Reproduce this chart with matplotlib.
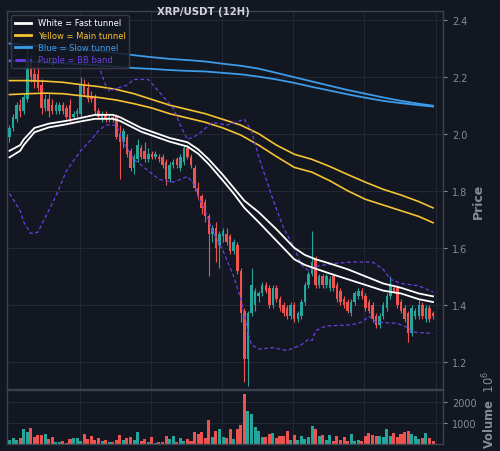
import numpy as np
import matplotlib
matplotlib.use('Agg')
import matplotlib.pyplot as plt
from matplotlib.lines import Line2D

# ---- 12H candles ----
opens = [1.99, 2.02, 2.05, 2.10, 2.08, 2.12, 2.25, 2.21, 2.21, 2.17,
         2.09, 2.12, 2.10, 2.08, 2.08, 2.10, 2.09, 2.10, 2.06, 2.07,
         2.07, 2.17, 2.16, 2.13, 2.13, 2.08, 2.05, 2.07, 2.05, 2.06,
         2.06, 2.00, 1.97, 1.99, 1.94, 1.88, 1.91, 1.95, 1.94, 1.91,
         1.93, 1.92, 1.92, 1.92, 1.90, 1.84, 1.89, 1.91, 1.88, 1.90,
         1.95, 1.92, 1.88, 1.81, 1.78, 1.76, 1.71, 1.65, 1.67, 1.61,
         1.64, 1.65, 1.64, 1.59, 1.61, 1.52, 1.38, 1.21, 1.37, 1.40,
         1.43, 1.44, 1.47, 1.46, 1.40, 1.46, 1.42, 1.40, 1.39, 1.36,
         1.40, 1.35, 1.36, 1.41, 1.47, 1.51, 1.56, 1.47, 1.50, 1.47,
         1.46, 1.50, 1.47, 1.45, 1.42, 1.41, 1.37, 1.41, 1.43, 1.45,
         1.43, 1.41, 1.40, 1.36, 1.33, 1.36, 1.39, 1.43, 1.46, 1.46,
         1.41, 1.39, 1.37, 1.30, 1.36, 1.36, 1.40, 1.35, 1.39, 1.37]
highs = [2.03, 2.07, 2.11, 2.12, 2.14, 2.31, 2.28, 2.24, 2.26, 2.19,
         2.14, 2.14, 2.12, 2.11, 2.11, 2.11, 2.10, 2.12, 2.08, 2.09,
         2.20, 2.19, 2.18, 2.15, 2.14, 2.09, 2.08, 2.08, 2.07, 2.07,
         2.07, 2.03, 2.02, 2.00, 1.95, 1.93, 1.98, 1.96, 1.97, 1.95,
         1.94, 1.94, 1.93, 1.93, 1.91, 1.90, 1.91, 1.92, 1.93, 1.96,
         1.96, 1.93, 1.89, 1.83, 1.79, 1.77, 1.72, 1.68, 1.69, 1.66,
         1.67, 1.67, 1.65, 1.63, 1.62, 1.53, 1.39, 1.38, 1.53, 1.46,
         1.45, 1.48, 1.48, 1.47, 1.47, 1.47, 1.43, 1.41, 1.40, 1.41,
         1.41, 1.38, 1.42, 1.48, 1.52, 1.66, 1.57, 1.51, 1.51, 1.51,
         1.50, 1.51, 1.48, 1.46, 1.43, 1.42, 1.42, 1.45, 1.46, 1.46,
         1.44, 1.42, 1.41, 1.37, 1.37, 1.41, 1.44, 1.50, 1.47, 1.47,
         1.42, 1.40, 1.38, 1.40, 1.39, 1.42, 1.41, 1.40, 1.40, 1.38]
lows = [1.97, 2.01, 2.04, 2.06, 2.07, 2.11, 2.18, 2.16, 2.15, 2.07,
        2.08, 2.06, 2.07, 2.07, 2.07, 2.07, 2.05, 2.04, 2.05, 2.06,
        2.06, 2.13, 2.11, 2.11, 2.07, 2.05, 2.04, 2.04, 2.04, 2.04,
        1.98, 1.84, 1.95, 1.92, 1.87, 1.86, 1.90, 1.91, 1.90, 1.90,
        1.91, 1.91, 1.90, 1.88, 1.82, 1.83, 1.88, 1.88, 1.87, 1.89,
        1.91, 1.88, 1.80, 1.77, 1.72, 1.69, 1.50, 1.62, 1.55, 1.53,
        1.62, 1.61, 1.58, 1.58, 1.51, 1.34, 1.13, 1.115, 1.36, 1.38,
        1.41, 1.43, 1.44, 1.39, 1.39, 1.41, 1.38, 1.36, 1.35, 1.35,
        1.34, 1.34, 1.35, 1.40, 1.46, 1.50, 1.46, 1.46, 1.46, 1.46,
        1.45, 1.45, 1.41, 1.40, 1.39, 1.37, 1.36, 1.40, 1.42, 1.42,
        1.38, 1.37, 1.34, 1.32, 1.32, 1.35, 1.38, 1.42, 1.44, 1.39,
        1.37, 1.34, 1.27, 1.29, 1.35, 1.35, 1.35, 1.34, 1.34, 1.35]
closes = [2.02, 2.06, 2.10, 2.08, 2.13, 2.26, 2.20, 2.18, 2.16, 2.09,
          2.12, 2.08, 2.08, 2.10, 2.10, 2.08, 2.06, 2.05, 2.07, 2.08,
          2.17, 2.14, 2.12, 2.12, 2.08, 2.06, 2.07, 2.05, 2.06, 2.05,
          1.99, 1.97, 2.01, 1.93, 1.88, 1.92, 1.96, 1.92, 1.91, 1.93,
          1.92, 1.93, 1.91, 1.89, 1.84, 1.89, 1.90, 1.89, 1.92, 1.95,
          1.92, 1.89, 1.81, 1.78, 1.74, 1.71, 1.65, 1.67, 1.60, 1.65,
          1.66, 1.62, 1.59, 1.62, 1.52, 1.37, 1.21, 1.37, 1.47, 1.45,
          1.44, 1.47, 1.45, 1.40, 1.46, 1.42, 1.39, 1.37, 1.36, 1.40,
          1.35, 1.37, 1.41, 1.47, 1.51, 1.55, 1.47, 1.50, 1.47, 1.50,
          1.49, 1.46, 1.42, 1.41, 1.40, 1.38, 1.41, 1.44, 1.45, 1.43,
          1.39, 1.38, 1.35, 1.33, 1.36, 1.40, 1.43, 1.47, 1.45, 1.40,
          1.38, 1.35, 1.30, 1.39, 1.38, 1.40, 1.36, 1.39, 1.35, 1.36]
# volume in units of 1e6
volumes = [190, 270, 200, 270, 720, 590, 780, 320, 430, 430,
           480, 240, 350, 80, 80, 120, 50, 240, 290, 270,
           160, 480, 240, 370, 190, 270, 140, 210, 80, 110,
           190, 430, 210, 290, 350, 190, 560, 160, 240, 110,
           320, 50, 80, 80, 370, 240, 370, 110, 290, 160,
           240, 160, 560, 480, 590, 270, 1150, 320, 610, 720,
           350, 270, 690, 240, 720, 910, 2370, 1570, 1440, 820,
           640, 320, 350, 460, 510, 270, 370, 370, 640, 190,
           430, 190, 400, 240, 320, 850, 700, 400, 430, 190,
           430, 160, 370, 210, 350, 130, 460, 130, 190, 130,
           380, 530, 450, 400, 370, 350, 690, 400, 510, 320,
           480, 560, 610, 480, 400, 240, 300, 510, 270, 130]

# ---- fast tunnel (white) ----
fast_idx = [0, 3, 4, 7, 11, 16, 20, 24, 29, 31, 37, 45, 50, 53, 56, 60, 63, 66, 70,
            75, 80, 83, 86, 90, 95, 100, 105, 110, 115, 119]
fast_hi = [1.94, 1.96, 1.98, 2.02, 2.035, 2.045, 2.055, 2.066, 2.066, 2.058, 2.02, 1.985,
           1.97, 1.945, 1.91, 1.855, 1.81, 1.765, 1.725, 1.665, 1.60, 1.575, 1.56, 1.545,
           1.525, 1.50, 1.475, 1.46, 1.44, 1.43]
fast_lo = [1.917, 1.94, 1.96, 2.005, 2.022, 2.033, 2.043, 2.052, 2.052, 2.045, 2.007, 1.972,
           1.955, 1.93, 1.893, 1.835, 1.79, 1.74, 1.69, 1.625, 1.56, 1.54, 1.527, 1.51,
           1.49, 1.47, 1.45, 1.44, 1.42, 1.41]

# ---- main (yellow) and slow (blue) tunnels, every 5 bars ----
line_idx = [0, 5, 10, 15, 20, 25, 30, 35, 40, 45, 50, 55, 60,
            65, 70, 75, 80, 85, 90, 95, 100, 105, 110, 115, 119]
main_hi = [2.186, 2.186, 2.184, 2.18, 2.172, 2.165, 2.155, 2.14, 2.12, 2.10, 2.085, 2.07, 2.05,
           2.03, 2.00, 1.96, 1.928, 1.91, 1.885, 1.857, 1.83, 1.805, 1.785, 1.762, 1.74]
main_lo = [2.137, 2.14, 2.142, 2.14, 2.133, 2.127, 2.118, 2.105, 2.09, 2.07, 2.055, 2.04, 2.02,
           1.995, 1.96, 1.92, 1.882, 1.865, 1.835, 1.80, 1.77, 1.75, 1.73, 1.71, 1.688]
slow_hi = [2.316, 2.31, 2.305, 2.30, 2.295, 2.29, 2.283, 2.275, 2.268, 2.262, 2.258, 2.253, 2.245,
           2.238, 2.228, 2.213, 2.198, 2.183, 2.168, 2.153, 2.14, 2.127, 2.115, 2.105, 2.098]
slow_lo = [2.256, 2.253, 2.25, 2.247, 2.243, 2.24, 2.235, 2.23, 2.227, 2.223, 2.22, 2.218, 2.213,
           2.208, 2.20, 2.19, 2.178, 2.164, 2.151, 2.138, 2.126, 2.115, 2.107, 2.10, 2.095]

# ---- Bollinger band ----
bb_up_idx = [0, 3, 6, 10, 14, 18, 23, 25, 27, 28, 30, 33, 35, 39, 42, 46, 48, 50, 52, 54,
             57, 61, 66, 68, 70, 74, 77, 80, 82, 84, 86, 91, 96, 102, 105, 107, 110, 115, 119]
bb_up = [2.25, 2.30, 2.38, 2.40, 2.38, 2.35, 2.30, 2.24, 2.17, 2.15, 2.158, 2.17, 2.19, 2.19,
         2.147, 2.09, 2.03, 1.98, 1.99, 2.007, 2.04, 2.03, 2.05, 2.01, 1.92, 1.77, 1.67, 1.60,
         1.54, 1.52, 1.535, 1.545, 1.55, 1.55, 1.525, 1.49, 1.475, 1.467, 1.445]
bb_lo_idx = [0, 2, 3, 4, 6, 8, 9, 11, 13, 16, 20, 23, 25, 27, 30, 32, 35, 39, 42, 46,
             48, 50, 52, 53, 55, 57, 60, 63, 65, 67, 68, 70, 74, 78, 82, 84, 85, 86, 89,
             96, 99, 101, 103, 109, 112, 113, 119]
bb_lo = [1.79, 1.75, 1.73, 1.69, 1.65, 1.655, 1.68, 1.73, 1.78, 1.87, 1.94, 1.98, 2.01, 2.03,
         2.03, 1.97, 1.91, 1.87, 1.84, 1.83, 1.84, 1.85, 1.82, 1.78, 1.73, 1.66, 1.59, 1.50,
         1.42, 1.305, 1.26, 1.245, 1.25, 1.24, 1.26, 1.28, 1.275, 1.31, 1.326, 1.33, 1.34,
         1.36, 1.34, 1.335, 1.32, 1.305, 1.30]

BG = '#131722'
UP = '#26a69a'
DN = '#ef5350'
GRID = '#232834'
SPINE = '#3c414d'
TXT = '#878b94'
YEL = '#f5c431'
BLU = '#3d9be9'
PUR = '#6a3fe0'

fig = plt.figure(figsize=(5, 4.52), dpi=100, facecolor=BG)
ax = fig.add_axes([0.014, 0.137, 0.872, 0.8365])
axv = fig.add_axes([0.014, 0.0155, 0.872, 0.1195], sharex=ax)

x = np.arange(len(closes))
o = np.array(opens)
c = np.array(closes)
up = c >= o
colors = [UP if u else DN for u in up]

# candles
ax.vlines(x, lows, highs, colors=colors, linewidth=0.8, zorder=2)
body = np.maximum(np.abs(c - o), 0.003)
ax.bar(x, body, bottom=np.minimum(o, c), width=0.7, color=colors, linewidth=0, zorder=3)

# tunnels
ax.plot(line_idx, slow_hi, color=BLU, lw=1.3, zorder=4)
ax.plot(line_idx, slow_lo, color=BLU, lw=1.3, zorder=4)
ax.plot(line_idx, main_hi, color=YEL, lw=1.2, zorder=4)
ax.plot(line_idx, main_lo, color=YEL, lw=1.2, zorder=4)
ax.plot(fast_idx, fast_hi, color='white', lw=1.3, zorder=5)
ax.plot(fast_idx, fast_lo, color='white', lw=1.3, zorder=5)
ax.plot(bb_up_idx, bb_up, color=PUR, lw=0.9, ls=(0, (3, 2)), zorder=4)
ax.plot(bb_lo_idx, bb_lo, color=PUR, lw=0.9, ls=(0, (3, 2)), zorder=4)

# volume
axv.bar(x, volumes, width=0.85, color=colors, linewidth=0)

for a in (ax, axv):
    a.set_facecolor(BG)
    for s in a.spines.values():
        s.set_color(SPINE)
        s.set_linewidth(1.0)
    a.yaxis.tick_right()
    a.yaxis.set_label_position('right')
    a.tick_params(axis='y', colors=TXT, labelsize=7, length=3, width=0.8)
    a.tick_params(axis='x', length=0, labelbottom=False)
    a.set_xticks(np.arange(20, 121, 20) - 0.3)
    a.grid(True, color=GRID, lw=0.8)
    a.set_axisbelow(True)

ax.set_xlim(-0.7, 121.8)
ax.set_ylim(1.105, 2.43)
ax.set_yticks([1.2, 1.4, 1.6, 1.8, 2.0, 2.2, 2.4])
ax.set_ylabel('Price', color=TXT, fontsize=9, fontweight='bold', labelpad=3)

axv.set_ylim(0, 2570)
axv.set_yticks([1000, 2000])
axv.set_ylabel('Volume  $10^{6}$', color=TXT, fontsize=8.3, fontweight='bold')
axv.yaxis.set_label_coords(1.087, 0.64)

fig.text(0.406, 0.973, 'XRP/USDT (12H)', color='#d1d4dc', fontsize=7.3,
         fontweight='bold', ha='center', va='center')

handles = [Line2D([], [], color='white', lw=2),
           Line2D([], [], color=YEL, lw=2),
           Line2D([], [], color=BLU, lw=2),
           Line2D([], [], color=PUR, lw=2, ls='--')]
labels = ['White = Fast tunnel', 'Yellow = Main tunnel', 'Blue = Slow tunnel', 'Purple = BB band']
leg = ax.legend(handles, labels, loc='upper left', fontsize=6, facecolor=BG,
                edgecolor=SPINE, framealpha=0.85, handlelength=2.0, labelspacing=0.4)
for t, col in zip(leg.get_texts(), ['white', YEL, BLU, PUR]):
    t.set_color(col)
leg.set_zorder(10)

fig.savefig('out.png', dpi=100, facecolor=BG)
